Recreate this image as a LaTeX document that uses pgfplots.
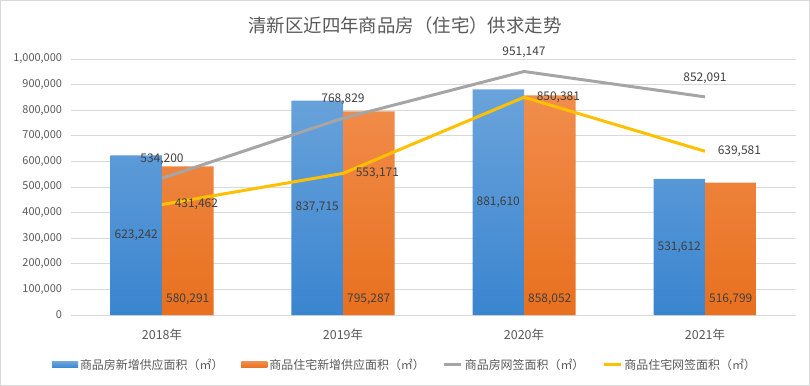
\documentclass[border=0pt]{standalone}
\usepackage{pgfplots}
\pgfplotsset{compat=1.18}
\usepackage{fontspec}
\setmainfont{Noto Sans CJK SC}
\definecolor{tx}{HTML}{595959}
\definecolor{lbl}{HTML}{404040}
\definecolor{bTop}{HTML}{6AA3DB}
\definecolor{bBot}{HTML}{3A85D0}
\definecolor{oTop}{HTML}{F18D4C}
\definecolor{oBot}{HTML}{E8701E}
\definecolor{cB}{HTML}{5B9BD5}
\definecolor{cO}{HTML}{ED7D31}
\definecolor{cG}{HTML}{A5A5A5}
\definecolor{cY}{HTML}{FFC000}
\definecolor{gridc}{HTML}{D9D9D9}
\begin{document}
\begin{tikzpicture}
\useasboundingbox (-71.5bp,-71bp) rectangle (738.5bp,315bp);
\draw[draw=gridc, line width=1bp] (-71bp,-70.5bp) rectangle (738bp,314.5bp);
\begin{axis}[
  at={(0,0)}, anchor=south west, scale only axis,
  width=724bp, height=256bp,
  xmin=-0.5, xmax=3.5, ymin=0, ymax=1000000,
  xtick={0,1,2,3}, xticklabels={2018年,2019年,2020年,2021年},
  ytick={0,100000,200000,300000,400000,500000,600000,700000,800000,900000,1000000},
  scaled y ticks=false,
  /pgf/number format/.cd, fixed, precision=0, 1000 sep={,}, assume math mode=true,
  /pgfplots/.cd,
  ymajorgrids, grid style={draw=gridc, line width=0.8bp},
  axis line style={draw=none},
  major tick length=0pt,
  tick label style={font=\fontsize{11}{13}\selectfont, text=tx},
  yticklabel style={xshift=-6bp},
  xticklabel style={yshift=-10bp, font=\fontsize{12.5}{14}\selectfont},
  clip=false,
  legend columns=4,
  legend style={at={(axis description cs:0.4606,-0.195)}, anchor=center,
    draw=none, fill=none, font=\fontsize{12}{14}\selectfont, text=tx,
    /tikz/every even column/.append style={column sep=16bp},
    inner sep=0pt},
  nodes near coords style={font=\fontsize{12}{14}\selectfont, text=lbl},
]
% bars
\addplot[ybar, bar width=51.5bp, bar shift=-25.75bp, draw=none,
  top color=bTop, bottom color=bBot,
  legend image code/.code={\fill[cB] (0bp,-3bp) rectangle (26bp,3bp);}]
  coordinates {(0,623242) (1,837715) (2,881610) (3,531612)};
\addlegendentry{商品房新增供应面积（㎡）}
\addplot[ybar, bar width=51.5bp, bar shift=25.75bp, draw=none,
  top color=oTop, bottom color=oBot,
  legend image code/.code={\fill[cO] (0bp,-3bp) rectangle (26bp,3bp);}]
  coordinates {(0,580291) (1,795287) (2,858052) (3,516799)};
\addlegendentry{商品住宅新增供应面积（㎡）}
% lines
\addplot[color=cG, line width=3bp, mark=none, sharp plot,
  nodes near coords, nodes near coords style={anchor=center, yshift=19bp}]
  coordinates {(0,534200) (1,768829) (2,951147) (3,852091)};
\addlegendentry{商品房网签面积（㎡）}
\addplot[color=cY, line width=3bp, mark=none, sharp plot,
  nodes near coords, nodes near coords style={anchor=west, xshift=8bp}]
  coordinates {(0,431462) (1,553171) (2,850381) (3,639581)};
\addlegendentry{商品住宅网签面积（㎡）}
% bar labels
\addplot[draw=none, mark=none, forget plot, y filter/.expression={y/2}, point meta=rawy,
  nodes near coords, nodes near coords style={anchor=center, xshift=-25.75bp}]
  coordinates {(0,623242) (1,837715) (2,881610) (3,531612)};
\addplot[draw=none, mark=none, forget plot, y filter/.expression={0}, point meta=rawy,
  nodes near coords, nodes near coords style={anchor=center, xshift=25.75bp, yshift=16bp}]
  coordinates {(0,580291) (1,795287) (2,858052) (3,516799)};
\end{axis}
\node[font=\fontsize{18.5}{21}\selectfont, text=tx] at (333.5bp,290bp) {清新区近四年商品房（住宅）供求走势};
\end{tikzpicture}
\end{document}
